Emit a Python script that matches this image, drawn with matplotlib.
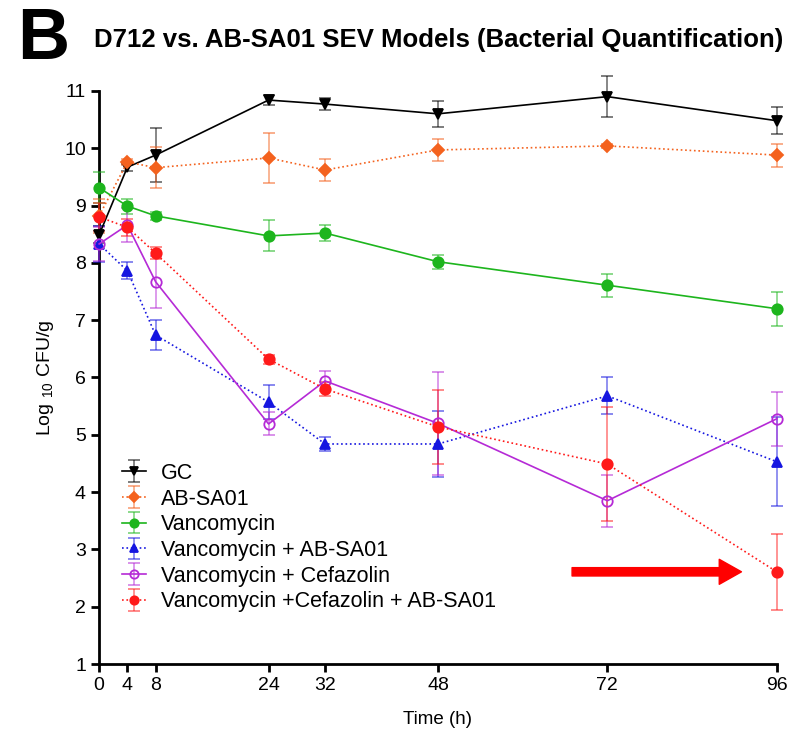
import matplotlib
matplotlib.use("Agg")
import matplotlib.pyplot as plt
import numpy as np

plt.rcParams.update({'font.family': ['Liberation Sans', 'DejaVu Sans'],
                     'mathtext.fontset': 'custom',
                     'mathtext.rm': 'Liberation Sans',
                     'mathtext.default': 'regular'})

time_h = [0, 4, 8, 24, 32, 48, 72, 96]
x_ticks = [0, 4, 8, 24, 32, 48, 72, 96]
y_ticks = list(range(1, 12))

gc = [8.49, 9.67, 9.88, 10.84, 10.77, 10.60, 10.90, 10.48]
gc_err = [0.15, 0.06, 0.47, 0.08, 0.10, 0.23, 0.36, 0.24]

ab = [8.82, 9.76, 9.66, 9.83, 9.62, 9.97, 10.04, 9.88]
ab_err = [0.30, 0.05, 0.36, 0.43, 0.20, 0.19, 0.04, 0.20]

vanc = [9.31, 8.99, 8.82, 8.47, 8.52, 8.02, 7.61, 7.20]
vanc_err = [0.27, 0.13, 0.07, 0.27, 0.14, 0.12, 0.20, 0.30]

vanc_ab = [8.33, 7.86, 6.74, 5.57, 4.84, 4.84, 5.68, 4.53]
vanc_ab_err = [0.32, 0.15, 0.26, 0.30, 0.13, 0.57, 0.32, 0.78]

vanc_cef = [8.33, 8.66, 7.67, 5.19, 5.94, 5.20, 3.85, 5.28]
vanc_cef_err = [0.30, 0.30, 0.45, 0.20, 0.17, 0.90, 0.45, 0.47]

vanc_cef_ab = [8.80, 8.62, 8.17, 6.32, 5.80, 5.14, 4.49, 2.61]
vanc_cef_ab_err = [0.25, 0.15, 0.10, 0.08, 0.13, 0.65, 1.00, 0.66]

series = [
    ("GC", gc, gc_err, "black", "v", "-", "black"),
    ("AB-SA01", ab, ab_err, "#f4621e", "D", ":", "#f4621e"),
    ("Vancomycin", vanc, vanc_err, "#1db51d", "o", "-", "#1db51d"),
    ("Vancomycin + AB-SA01", vanc_ab, vanc_ab_err, "#1616e0", "^", ":", "#1616e0"),
    ("Vancomycin + Cefazolin", vanc_cef, vanc_cef_err, "#b52ad6", "o", "-", "none"),
    ("Vancomycin +Cefazolin + AB-SA01", vanc_cef_ab, vanc_cef_ab_err, "#ff1a1a", "o", ":", "#ff1a1a"),
]

fig = plt.figure(figsize=(7.87, 7.33), dpi=100)
ax = fig.add_axes([0.126, 0.094, 0.861, 0.782])

for label, y, err, col, mk, ls, mfc in series:
    ms = 6 if mk == "D" else 7.5
    eb = ax.errorbar(time_h, y, yerr=err, color=col, marker=mk, ls=ls, lw=1.2,
                     ms=ms, mfc=mfc, mec=col, mew=1.3, capsize=4, elinewidth=1.2,
                     capthick=1.2, ecolor=col, label=label, clip_on=False, zorder=3)
    for part in eb[1] + eb[2]:
        part.set_alpha(0.55)
        part.set_clip_on(False)

ax.set_xlim(0, 96)
ax.set_ylim(1, 11)
ax.set_xticks(x_ticks)
ax.set_yticks(y_ticks)
ax.spines['top'].set_visible(False)
ax.spines['right'].set_visible(False)
ax.spines['left'].set_linewidth(2)
ax.spines['bottom'].set_linewidth(2)
ax.tick_params(width=2, length=6, labelsize=14, direction='out')

ax.set_xlabel("Time (h)", fontsize=13.5, labelpad=12)
ax.set_ylabel("Log $_{10}$ CFU/g", fontsize=14, labelpad=6)

fig.text(0.12, 0.945, "D712 vs. AB-SA01 SEV Models (Bacterial Quantification)",
         fontsize=18.5, fontweight='bold', va='center', ha='left')
fig.text(0.022, 0.945, "B", fontsize=52, fontweight='bold', va='center', ha='left')

leg = ax.legend(loc="upper left", bbox_to_anchor=(0.005, 0.385), frameon=False,
                fontsize=15.5, handlelength=1.1, labelspacing=0.22, handletextpad=0.7,
                markerscale=0.8)

# red arrow pointing at the 96 h triple-combination point
ax.annotate("", xy=(time_h[-1] - 5, vanc_cef_ab[-1]), xytext=(time_h[-1] - 29, vanc_cef_ab[-1]),
            arrowprops=dict(arrowstyle="simple,head_length=1.6,head_width=1.8,tail_width=0.6",
                            color="#ff0000", mutation_scale=10, shrinkA=0, shrinkB=0))

fig.savefig("out.png", dpi=100)
